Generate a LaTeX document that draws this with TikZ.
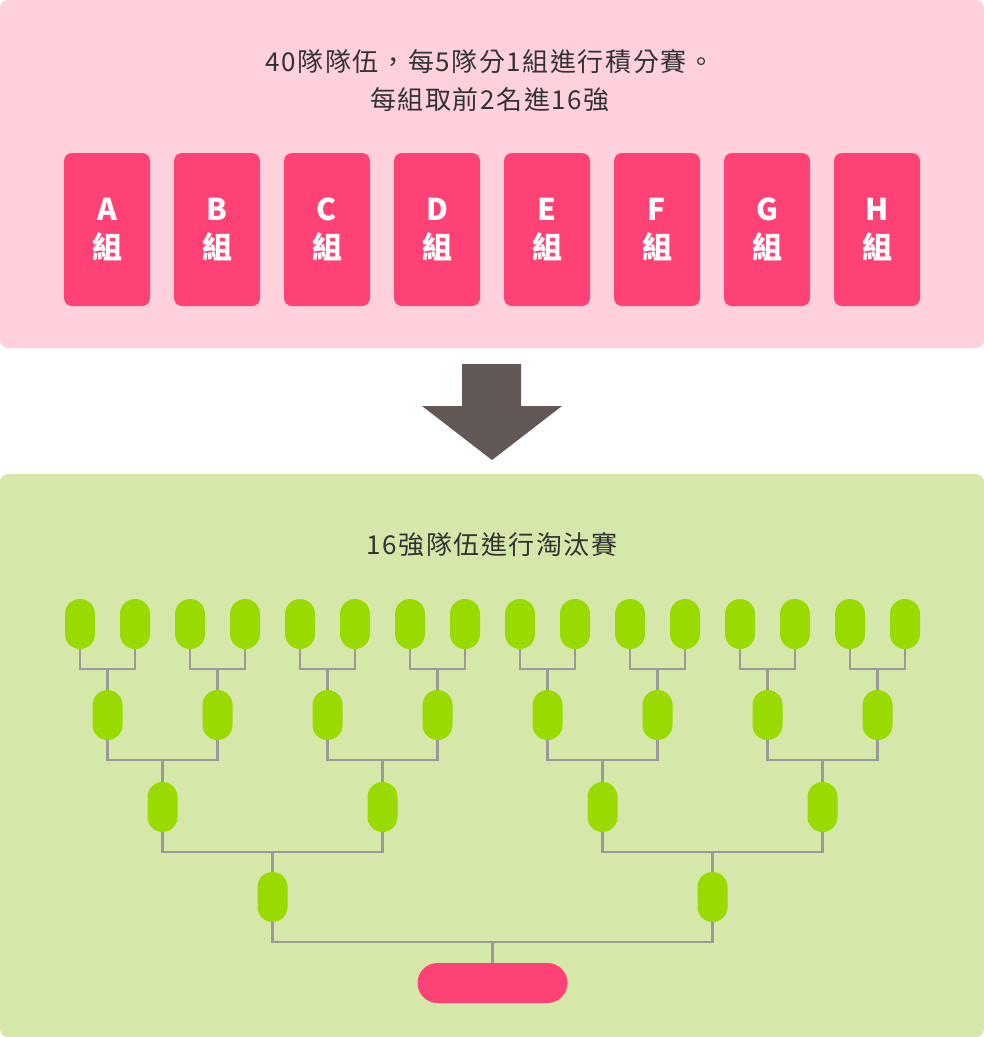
\documentclass[tikz,border=0pt]{standalone}
\usepackage{fontspec}
\setmainfont{Noto Sans CJK TC}
\newfontfamily\titlefont[LetterSpace=6]{Noto Sans CJK TC}
\usepackage{xcolor}
\usetikzlibrary{positioning}

\definecolor{bgpink}{HTML}{FFD1DC}
\definecolor{grppink}{HTML}{FF4275}
\definecolor{bggreen}{HTML}{D5E8A9}
\definecolor{teamgreen}{HTML}{99DB00}
\definecolor{linegray}{HTML}{9A9A9A}
\definecolor{arrowgray}{HTML}{625856}
\definecolor{textgray}{HTML}{333333}

\begin{document}
\begin{tikzpicture}[x=1pt, y=-1pt,
    panel/.style={rounded corners=8pt, inner sep=0pt},
    grp/.style={fill=grppink, rounded corners=8pt, minimum width=86pt, minimum height=153pt, inner sep=0pt, align=center, text=white, font=\fontsize{30}{38}\selectfont\bfseries},
    team/.style={fill=teamgreen, rounded corners=15pt, minimum width=30pt, minimum height=50pt, inner sep=0pt},
    champ/.style={fill=grppink, rounded corners=20pt, minimum width=150pt, minimum height=40pt, inner sep=0pt},
    link/.style={draw=linegray, line width=2.4pt},
    title/.style={text=textgray, align=center, font=\titlefont\fontsize{26}{38}\selectfont}
]
    \useasboundingbox (0,0) rectangle (984,1037);

    % Group stage
    \node[panel, fill=bgpink, minimum width=984pt, minimum height=348pt] (top) at (492,174) {};
    \node[title] (topText) at (490,81) {40隊隊伍，每5隊分1組進行積分賽。\\每組取前2名進16強};
    \foreach \g [count=\i] in {A,B,C,D,E,F,G,H}
        \node[grp] (grp\g) at ({107+110*(\i-1)},229.5) {\g\\組};

    % Arrow
    \fill[arrowgray] (462,364) -- (521,364) -- (521,406) -- (562,406) -- (492,460) -- (422,406) -- (462,406) -- cycle;

    % Knockout stage
    \node[panel, fill=bggreen, minimum width=984pt, minimum height=563pt] (bottom) at (492,755.5) {};
    \node[title] (bottomText) at (492,545) {16強隊伍進行淘汰賽};

    \foreach \i in {1,...,16}
        \node[team] (r1n\i) at ({80+55*(\i-1)},624) {};
    \foreach \i in {1,...,8} {
        \node[team] (r2n\i) at ({107.5+110*(\i-1)},715) {};
        \pgfmathtruncatemacro\a{2*\i-1}
        \pgfmathtruncatemacro\b{2*\i}
        \draw[link] (r1n\a.south) -- ++(0,20) -| (r2n\i.north);
        \draw[link] (r1n\b.south) -- ++(0,20) -| (r2n\i.north);
    }
    \foreach \i in {1,...,4} {
        \node[team] (r3n\i) at ({162.5+220*(\i-1)},807) {};
        \pgfmathtruncatemacro\a{2*\i-1}
        \pgfmathtruncatemacro\b{2*\i}
        \draw[link] (r2n\a.south) -- ++(0,20) -| (r3n\i.north);
        \draw[link] (r2n\b.south) -- ++(0,20) -| (r3n\i.north);
    }
    \foreach \i in {1,2} {
        \node[team] (r4n\i) at ({272.5+440*(\i-1)},897) {};
        \pgfmathtruncatemacro\a{2*\i-1}
        \pgfmathtruncatemacro\b{2*\i}
        \draw[link] (r3n\a.south) -- ++(0,20) -| (r4n\i.north);
        \draw[link] (r3n\b.south) -- ++(0,20) -| (r4n\i.north);
    }
    \node[champ] (champ) at (492.5,983) {};
    \draw[link] (r4n1.south) -- ++(0,20) -| (champ.north);
    \draw[link] (r4n2.south) -- ++(0,20) -| (champ.north);
\end{tikzpicture}
\end{document}
